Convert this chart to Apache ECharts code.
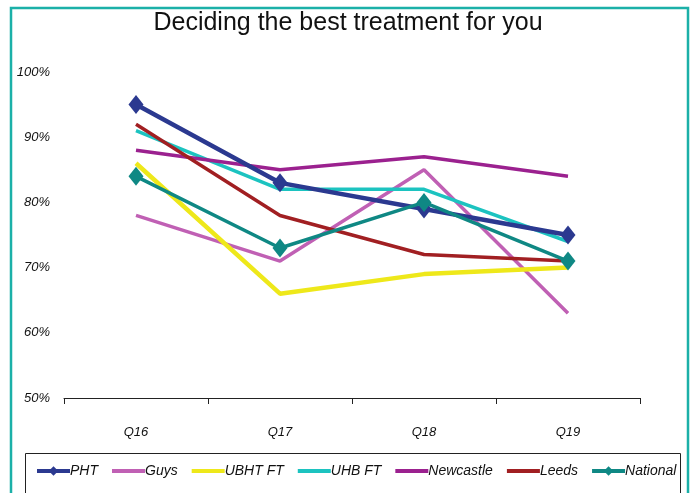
<!DOCTYPE html>
<html>
<head>
<meta charset="utf-8">
<script src="https://cdn.jsdelivr.net/npm/echarts@6/dist/echarts.min.js"></script>
<style>
  html, body { margin: 0; padding: 0; background: #fff; }
  #chart { width: 696px; height: 493px; }
</style>
</head>
<body>
<div id="chart"></div>
<script>
// Survey questions along the x axis
const questions = ['Q16', 'Q17', 'Q18', 'Q19'];

// Percentage scores per organisation
const pht       = [95, 83, 79, 75];
const guys      = [78, 71, 85, 63];
const ubhtFt    = [86, 66, 69, 70];
const uhbFt     = [91, 82, 82, 74];
const newcastle = [88, 85, 87, 84];
const leeds     = [92, 78, 72, 71];
const national  = [84, 73, 80, 71];

// Y axis range and steps
const yMin = 50, yMax = 100, yStep = 10;

const FONT = '"Liberation Sans", Arial, sans-serif';

function line(name, data, color, width, marker) {
  return {
    name: name,
    type: 'line',
    data: data,
    symbol: marker ? 'diamond' : 'none',
    symbolSize: marker ? [15, 19] : 0,
    lineStyle: { color: color, width: width },
    itemStyle: { color: color },
    showSymbol: !!marker,
    z: marker ? 5 : 3,
    animation: false
  };
}

// Legend entries: only PHT and National carry a marker
function legendItem(name, marker) {
  return marker ? { name: name } : { name: name, itemStyle: { opacity: 0 } };
}

const chart = echarts.init(document.getElementById('chart'), null, { renderer: 'canvas' });
chart.setOption({
  backgroundColor: '#ffffff',
  animation: false,
  title: {
    text: 'Deciding the best treatment for you',
    left: 'center',
    top: 6,
    textStyle: { fontFamily: FONT, fontSize: 25, fontWeight: 'normal', color: '#111' }
  },
  grid: { left: 64, right: 56, top: 72, bottom: 95, containLabel: false },
  xAxis: {
    type: 'category',
    data: questions,
    boundaryGap: true,
    axisLine: { lineStyle: { color: '#222', width: 1 } },
    axisTick: { show: true, length: 6, inside: false, lineStyle: { color: '#222' } },
    axisLabel: { margin: 28, fontFamily: FONT, fontStyle: 'italic', fontSize: 13, color: '#111' },
    splitLine: { show: false }
  },
  yAxis: {
    type: 'value',
    min: yMin, max: yMax, interval: yStep,
    axisLine: { show: false },
    axisTick: { show: false },
    splitLine: { show: false },
    axisLabel: {
      margin: 14,
      formatter: '{value}%',
      fontFamily: FONT, fontStyle: 'italic', fontSize: 13, color: '#111'
    }
  },
  legend: {
    left: 30,
    top: 459,
    itemWidth: 33,
    itemHeight: 12,
    itemGap: 12,
    lineStyle: { width: 4 },
    textStyle: { fontFamily: FONT, fontStyle: 'italic', fontSize: 14, color: '#111', padding: [0, 0, 0, -5] },
    data: [
      legendItem('PHT', true),
      legendItem('Guys', false),
      legendItem('UBHT FT', false),
      legendItem('UHB FT', false),
      legendItem('Newcastle', false),
      legendItem('Leeds', false),
      legendItem('National', true)
    ]
  },
  graphic: [
    {
      type: 'rect',
      shape: { x: 11, y: 8, width: 677, height: 500 },
      style: { fill: 'none', stroke: '#1BB0A8', lineWidth: 2.5 },
      silent: true, z: 0
    },
    {
      type: 'rect',
      shape: { x: 25.5, y: 453.5, width: 655, height: 60 },
      style: { fill: 'none', stroke: '#222', lineWidth: 1 },
      silent: true, z: 0
    }
  ],
  series: [
    line('PHT', pht, '#2B3990', 4.5, true),
    line('Guys', guys, '#C060B4', 3.5, false),
    line('UBHT FT', ubhtFt, '#EEE81A', 4.5, false),
    line('UHB FT', uhbFt, '#1CC3C0', 3.5, false),
    line('Newcastle', newcastle, '#9B218F', 3.5, false),
    line('Leeds', leeds, '#A11F22', 3.5, false),
    line('National', national, '#0F8884', 3.5, true)
  ]
});
</script>
</body>
</html>
